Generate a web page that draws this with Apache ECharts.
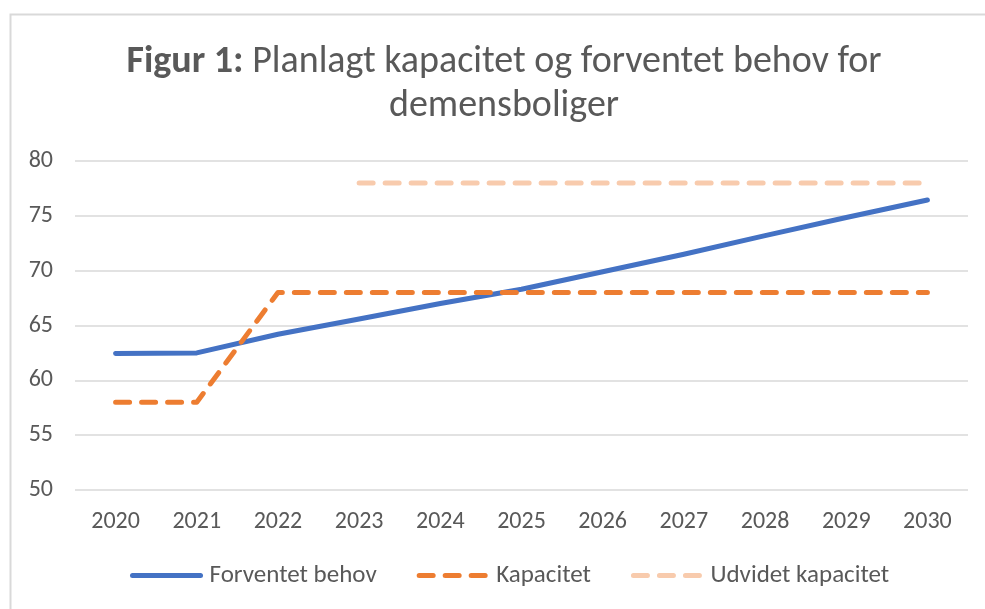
<!DOCTYPE html>
<html>
<head>
<meta charset="utf-8">
<script src="https://cdn.jsdelivr.net/npm/echarts@6/dist/echarts.min.js"></script>
<style>
html,body{margin:0;padding:0;background:#fff;}
#chart{width:985px;height:609px;}
</style>
</head>
<body>
<div id="chart"></div>
<script>
const years = ['2020','2021','2022','2023','2024','2025','2026','2027','2028','2029','2030'];
const forventetBehov = [62.45, 62.5, 64.2, 65.6, 67.0, 68.3, 69.9, 71.5, 73.2, 74.85, 76.45];
const kapacitet = [58, 58, 68, 68, 68, 68, 68, 68, 68, 68, 68];
const udvidetKapacitet = [null, null, null, 78, 78, 78, 78, 78, 78, 78, 78];
const seriesNames = ['Forventet behov', 'Kapacitet', 'Udvidet kapacitet'];

const FONT = "Carlito, 'Liberation Sans Narrow', 'Noto Sans', sans-serif";
const chart = echarts.init(document.getElementById('chart'), null, {renderer:'canvas'});
chart.setOption({
  animation:false,
  backgroundColor:'#fff',
  graphic:[
    {type:'rect', left:8, top:12, shape:{width:1000, height:700}, style:{fill:'none', stroke:'#D9D9D9', lineWidth:2}, silent:true}
  ],
  title:{
    text:'{b|Figur 1:} Planlagt kapacitet og forventet behov for\ndemensboliger',
    left:499, textAlign:'center', top:35,
    textStyle:{
      fontFamily:FONT, fontSize:38, fontWeight:'normal', color:'#595959', lineHeight:44, align:'center',
      rich:{b:{fontFamily:FONT, fontSize:38, fontWeight:'bold', color:'#595959', lineHeight:44}}
    }
  },
  legend:{
    bottom:16, left:125,
    itemWidth:68, itemHeight:10, itemGap:40,
    itemStyle:{opacity:0},
    lineStyle:{width:5, cap:'round'},
    textStyle:{fontFamily:FONT, fontSize:25, color:'#595959', padding:[0,0,0,4]},
    data:seriesNames
  },
  grid:{left:75, right:17, top:161, bottom:119, containLabel:false},
  xAxis:{
    type:'category', data:years, boundaryGap:true,
    axisLine:{show:false}, axisTick:{show:false},
    axisLabel:{fontFamily:FONT, fontSize:24, color:'#595959', margin:20}
  },
  yAxis:{
    type:'value', min:50, max:80, interval:5,
    axisLine:{show:false}, axisTick:{show:false},
    axisLabel:{fontFamily:FONT, fontSize:24, color:'#595959', margin:22},
    splitLine:{lineStyle:{color:'#D9D9D9', width:1.5}}
  },
  series:[
    {name:seriesNames[0], type:'line', data:forventetBehov, symbol:'none', color:'#4472C4',
     lineStyle:{width:5, color:'#4472C4', cap:'round', join:'round'}},
    {name:seriesNames[1], type:'line', data:kapacitet, symbol:'none', color:'#ED7D31',
     lineStyle:{width:5, color:'#ED7D31', type:[14,12], cap:'round', join:'round'}},
    {name:seriesNames[2], type:'line', data:udvidetKapacitet, symbol:'none', color:'#F8CBAD',
     lineStyle:{width:5, color:'#F8CBAD', type:[14,12], cap:'round', join:'round'}}
  ]
});
</script>
</body>
</html>
